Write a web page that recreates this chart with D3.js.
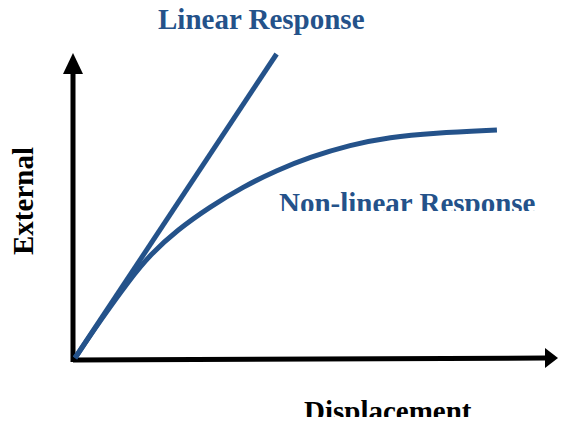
<!DOCTYPE html>
<html><head><meta charset="utf-8">
<script src="https://cdn.jsdelivr.net/npm/d3@7"></script>
<style>html,body{margin:0;padding:0;background:#fff;}svg{display:block;}</style>
</head><body>
<svg id="chart" width="562" height="423"></svg>
<script>
// Data (arbitrary units)
const linearDisp = [0, 42];
const linearForce = [0, 100];
const nonlinearDisp = [0, 5.2, 11.5, 15.6, 21.3, 28.1, 35.0, 42.1, 49.0, 57.3, 65.6, 74.6, 87.9];
const nonlinearForce = [0, 12.2, 26.0, 33.9, 42.1, 49.7, 56.3, 61.8, 66.1, 70.1, 72.7, 74.0, 75.0];
const labels = {linear: "Linear Response", nonlinear: "Non-linear Response", x: "Displacement", y: "External"};

const svg = d3.select("#chart");
const x = d3.scaleLinear().domain([0, 100]).range([75, 555]);
const y = d3.scaleLinear().domain([0, 100]).range([358, 54]);
const blue = "#24528a";
const serif = "'Liberation Serif','Times New Roman',serif";
const fs = 29;

// clip paths for cropped labels
const defs = svg.append("defs");
defs.append("clipPath").attr("id","clipNL").append("rect").attr("x",0).attr("y",0).attr("width",562).attr("height",211);
defs.append("clipPath").attr("id","clipX").append("rect").attr("x",0).attr("y",0).attr("width",562).attr("height",417);

// axes
const x0 = x(0) - 2, yAx = y(0) + 2;
svg.append("line").attr("x1", x0).attr("y1", yAx).attr("x2", 545).attr("y2", yAx - 2)
  .attr("stroke","#000").attr("stroke-width",5);
svg.append("path").attr("d", `M545,${yAx-12} L558,${yAx-2} L545,${yAx+8} Z`).attr("fill","#000");
svg.append("line").attr("x1", x0).attr("y1", yAx + 2).attr("x2", x0).attr("y2", 70)
  .attr("stroke","#000").attr("stroke-width",5);
svg.append("path").attr("d", `M${x0-10},74 L${x0},53 L${x0+10},74 Z`).attr("fill","#000");

// series
const lineGen = d3.line().x(d => x(d[0])).y(d => y(d[1]));
svg.append("path").datum(linearDisp.map((d,i)=>[d, linearForce[i]]))
  .attr("d", lineGen).attr("fill","none").attr("stroke",blue).attr("stroke-width",5).attr("stroke-linecap","butt");
svg.append("path").datum(nonlinearDisp.map((d,i)=>[d, nonlinearForce[i]]))
  .attr("d", d3.line().x(d => x(d[0])).y(d => y(d[1])).curve(d3.curveBasis))
  .attr("fill","none").attr("stroke",blue).attr("stroke-width",5).attr("stroke-linecap","butt");

// labels
svg.append("text").attr("x",158).attr("y",29).attr("font-family",serif).attr("font-weight","bold")
  .attr("font-size",fs).attr("fill",blue).text(labels.linear);
svg.append("text").attr("x",279).attr("y",213).attr("font-family",serif).attr("font-weight","bold")
  .attr("font-size",fs).attr("fill",blue).attr("clip-path","url(#clipNL)").text(labels.nonlinear);
svg.append("text").attr("x",304).attr("y",421).attr("font-family",serif).attr("font-weight","bold")
  .attr("font-size",fs).attr("fill","#000").attr("clip-path","url(#clipX)").text(labels.x);
svg.append("text").attr("transform","translate(33,201) rotate(-90)").attr("text-anchor","middle")
  .attr("font-family",serif).attr("font-weight","bold").attr("font-size",fs).attr("fill","#000").text(labels.y);
</script>
</body></html>
